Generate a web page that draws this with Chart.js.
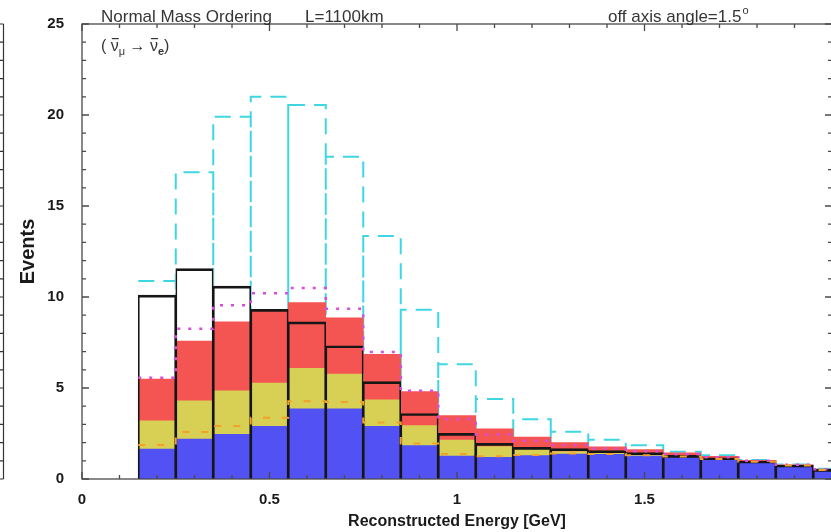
<!DOCTYPE html>
<html>
<head>
<meta charset="utf-8">
<title>Reconstructed energy</title>
<script src="https://cdn.jsdelivr.net/npm/chart.js@4.4.1/dist/chart.umd.min.js"></script>
<style>
html, body { margin: 0; padding: 0; background: #fff; overflow: hidden; }
canvas { display: block; }
</style>
</head>
<body>
<canvas id="histChart" width="840" height="532"></canvas>
<script>
// bin centres [GeV], every bin is 0.1 GeV wide
var binCentres = [0.2, 0.3, 0.4, 0.5, 0.6, 0.7, 0.8, 0.9, 1.0, 1.1, 1.2, 1.3, 1.4, 1.5, 1.6, 1.7, 1.8, 1.9, 2.0];
var binHalf = 0.05;

// stacked components (bottom to top)
var layerBlue   = [1.65, 2.2, 2.45, 2.9, 3.85, 3.85, 2.9, 1.83, 1.26, 1.19, 1.28, 1.37, 1.35, 1.26, 1.21, 1.08, 0.92, 0.73, 0.49];
var layerYellow = [1.55, 2.1, 2.4, 2.37, 2.23, 1.92, 1.45, 1.1, 0.88, 0.59, 0.37, 0.13, 0.1, 0.09, 0.07, 0.04, 0.05, 0.02, 0.02];
var layerRed    = [2.29, 3.28, 3.78, 4.05, 3.61, 3.08, 2.5, 1.87, 1.34, 0.97, 0.66, 0.5, 0.32, 0.26, 0.16, 0.12, 0.05, 0.03, 0.03];

// outline histograms
var totalOutline  = [10.1, 11.56, 10.6, 9.32, 8.63, 7.32, 5.35, 3.6, 2.51, 1.96, 1.74, 1.67, 1.56, 1.45, 1.3, 1.17, 0.99, 0.77, 0.53];
var dashedCyan    = [10.88, 16.85, 19.9, 21.0, 20.55, 17.7, 13.35, 9.3, 6.3, 4.4, 3.28, 2.6, 2.15, 1.85, 1.5, 1.3, 1.05, 0.8, 0.56];
var dottedMagenta = [5.57, 8.26, 9.54, 10.2, 10.49, 9.36, 6.98, 4.85, 3.28, 2.45, 2.1, 1.85, 1.68, 1.52, 1.36, 1.2, 1.0, 0.78, 0.53];
var dashedOrange  = [1.87, 2.58, 2.91, 3.37, 4.27, 4.23, 3.11, 1.95, 1.37, 1.25, 1.32, 1.4, 1.38, 1.3, 1.23, 1.1, 0.95, 0.74, 0.5];

var yTicks = [0, 5, 10, 15, 20, 25];
var xTicks = [0, 0.5, 1, 1.5];

var FONT = '"Liberation Sans", Arial, Helvetica, sans-serif';

function toPoints(vals) {
    return vals.map(function (v, i) { return { x: binCentres[i], y: v }; });
}

// flat step outline: one horizontal per bin, joined by verticals
function stepPoints(vals) {
    var pts = [];
    vals.forEach(function (v, i) {
        pts.push({ x: binCentres[i] - binHalf, y: v });
        pts.push({ x: binCentres[i] + binHalf, y: v });
    });
    return pts;
}

// boxed outline: every bin is drawn up from zero and back down
function boxPoints(vals) {
    var pts = [];
    vals.forEach(function (v, i) {
        var lo = binCentres[i] - binHalf, hi = binCentres[i] + binHalf;
        if (i > 0) pts.push({ x: lo, y: 0 });
        pts.push({ x: lo, y: v });
        pts.push({ x: hi, y: v });
        pts.push({ x: hi, y: 0 });
    });
    return pts;
}

function barSet(vals, stack, fill, order) {
    return {
        type: 'bar',
        data: toPoints(vals),
        stack: stack,
        grouped: false,
        backgroundColor: fill,
        borderWidth: 0,
        categoryPercentage: 1,
        barPercentage: 1,
        order: order
    };
}

function lineSet(pts, stack, color, width, dash, order) {
    return {
        type: 'line',
        data: pts,
        stack: stack,
        borderColor: color,
        borderWidth: width,
        borderDash: dash,
        pointRadius: 0,
        fill: false,
        tension: 0,
        order: order
    };
}

var outlineSet = barSet(totalOutline, 'outline', 'rgba(0,0,0,0)', 2);
outlineSet.borderColor = '#161616';
outlineSet.borderWidth = { top: 2, left: 1, right: 1, bottom: 0 };

// frame, inward ticks on all sides
var frameTicks = {
    id: 'frameTicks',
    afterDatasetsDraw: function (chart) {
        var ctx = chart.ctx, a = chart.chartArea;
        var xs = chart.scales.x, ys = chart.scales.y;
        ctx.save();
        ctx.strokeStyle = '#4a4a4a';
        ctx.lineWidth = 1.3;
        ctx.strokeRect(a.left, a.top, a.right - a.left, a.bottom - a.top);
        ctx.beginPath();
        for (var i = 0; i <= 25; i++) {
            var y = ys.getPixelForValue(i);
            var len = i % 5 === 0 ? 7 : 4;
            ctx.moveTo(a.left, y); ctx.lineTo(a.left + len, y);
            ctx.moveTo(a.right, y); ctx.lineTo(a.right - len, y);
        }
        for (var j = 0; j <= 20; j++) {
            var x = xs.getPixelForValue(j / 10);
            var l2 = j % 5 === 0 ? 7 : 4;
            ctx.moveTo(x, a.bottom); ctx.lineTo(x, a.bottom - l2);
            ctx.moveTo(x, a.top); ctx.lineTo(x, a.top + l2);
        }
        ctx.stroke();

        // edge of the neighbouring panel
        ctx.strokeStyle = '#333';
        ctx.lineWidth = 1.2;
        ctx.beginPath();
        ctx.moveTo(3.5, a.top);
        ctx.lineTo(3.5, a.bottom);
        for (var k = 0; k <= 25; k++) {
            var yy = ys.getPixelForValue(k);
            ctx.moveTo(3.5, yy); ctx.lineTo(0, yy);
        }
        ctx.stroke();
        ctx.restore();
    }
};

// header texts and the channel label
var labels = {
    id: 'labels',
    afterDraw: function (chart) {
        var ctx = chart.ctx;
        ctx.save();
        ctx.fillStyle = '#353535';
        ctx.textBaseline = 'alphabetic';
        ctx.textAlign = 'left';
        ctx.font = '17px ' + FONT;
        ctx.fillText('Normal Mass Ordering', 101, 22);
        ctx.fillText('L=1100km', 305, 22);
        ctx.fillText('off axis angle=1.5', 608, 22);
        var w = ctx.measureText('off axis angle=1.5').width;
        ctx.font = '11px ' + FONT;
        ctx.fillText('o', 608 + w + 1, 14);

        var x = 101, base = 51;
        var big = '16px ' + FONT, small = '11px ' + FONT;
        function put(t, f, dy, bar) {
            ctx.font = f;
            ctx.fillText(t, x, base + dy);
            var tw = ctx.measureText(t).width;
            if (bar) {
                ctx.fillRect(x + 1, base - 13, tw - 1, 1.2);
            }
            x += tw;
        }
        put('( ', big, 0);
        put('\u03BD', big, 0, true);
        put('\u03BC', small, 4);
        put(' \u2192 ', big, 0);
        put('\u03BD', big, 0, true);
        put('e', 'bold ' + small, 4);
        put(')', big, 0);
        ctx.restore();
    }
};

new Chart(document.getElementById('histChart').getContext('2d'), {
    type: 'bar',
    data: {
        datasets: [
            lineSet(boxPoints(dashedCyan), 'cyan', '#3fd6e2', 2, [16, 9], 5),
            barSet(totalOutline, 'white', '#ffffff', 4),
            barSet(layerBlue, 'sum', '#5151f4', 3),
            barSet(layerYellow, 'sum', '#d8cf55', 3),
            barSet(layerRed, 'sum', '#f55552', 3),
            outlineSet,
            lineSet(stepPoints(dottedMagenta), 'magenta', '#d64fdc', 2.5, [3, 8], 1),
            lineSet(stepPoints(dashedOrange), 'orange', '#f2a12a', 2, [7, 12], 0)
        ]
    },
    options: {
        responsive: false,
        animation: false,
        layout: { padding: { top: 24, right: 8, left: 0, bottom: 0 } },
        plugins: { legend: { display: false }, tooltip: { enabled: false } },
        scales: {
            x: {
                type: 'linear',
                offset: false,
                min: 0,
                max: 2,
                grid: { display: false },
                border: { display: false },
                afterBuildTicks: function (s) {
                    s.ticks = xTicks.map(function (v) { return { value: v }; });
                },
                ticks: {
                    padding: 4,
                    color: '#1a1a1a',
                    font: { family: FONT, size: 15, weight: 'bold' },
                    maxRotation: 0,
                    callback: function (v) { return String(v); }
                },
                title: {
                    display: true,
                    text: 'Reconstructed Energy [GeV]',
                    color: '#1a1a1a',
                    font: { family: FONT, size: 16, weight: 'bold' },
                    padding: { top: 0, bottom: 1 }
                },
                afterFit: function (s) { s.height = 53; }
            },
            y: {
                stacked: true,
                min: 0,
                max: 25,
                grid: { display: false },
                border: { display: false },
                afterBuildTicks: function (s) {
                    s.ticks = yTicks.map(function (v) { return { value: v }; });
                },
                ticks: {
                    padding: 10,
                    color: '#1a1a1a',
                    font: { family: FONT, size: 15, weight: 'bold' }
                },
                title: {
                    display: true,
                    text: 'Events',
                    color: '#1a1a1a',
                    font: { family: FONT, size: 20, weight: 'bold' },
                    padding: { top: 16, bottom: 0 }
                },
                afterFit: function (s) { s.width = 82; }
            }
        }
    },
    plugins: [frameTicks, labels]
});
</script>
</body>
</html>
